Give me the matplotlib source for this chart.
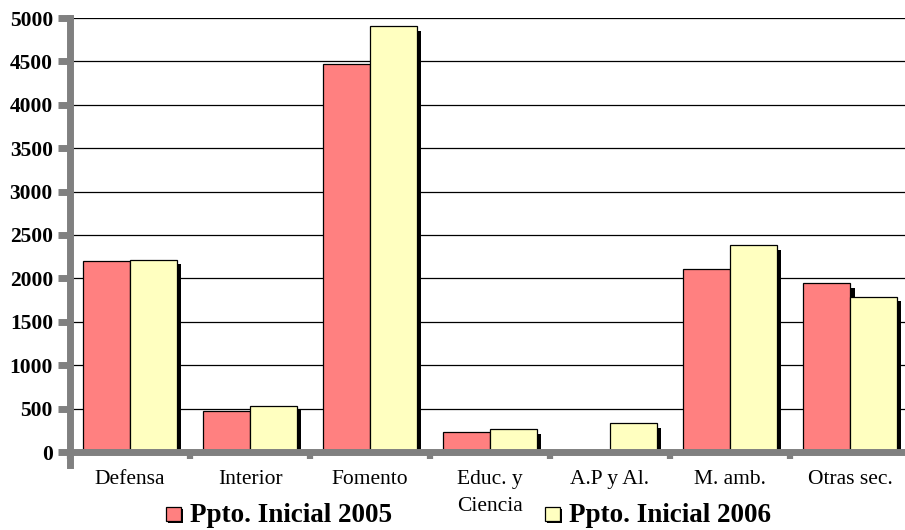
import numpy as np
import matplotlib
matplotlib.use("Agg")
import matplotlib.pyplot as plt
import matplotlib.patches as mpatches
import matplotlib.patheffects as pe

# budget by section, two years
categories = ["Defensa", "Interior", "Fomento", "Educ. y\nCiencia", "A.P y Al.", "M. amb.", "Otras sec."]
ppto_2005 = [2200, 477, 4470, 227, 0, 2105, 1942]
ppto_2006 = [2216, 534, 4908, 261, 330, 2384, 1790]
series_names = ["Ppto. Inicial 2005", "Ppto. Inicial 2006"]
series_colors = ["#FF8080", "#FFFFC0"]

plt.rcParams["font.family"] = ["Liberation Serif", "DejaVu Serif"]

fig = plt.figure(figsize=(9.05, 5.3), dpi=100)
ax = fig.add_axes([70 / 905, 78 / 530, 840 / 905, 434 / 530])

shadow = [pe.SimplePatchShadow(offset=(3.3, -3.3), shadow_rgbFace="black", alpha=1.0), pe.Normal()]
small_shadow = [pe.SimplePatchShadow(offset=(1.5, -1.5), shadow_rgbFace="black", alpha=1.0), pe.Normal()]

x = np.arange(len(categories))
w = 0.39
for i, vals in enumerate([ppto_2005, ppto_2006]):
    ax.bar(x + (i - 0.5) * w, vals, width=w, color=series_colors[i], edgecolor="black",
           linewidth=0.9, zorder=2, path_effects=shadow)

ax.set_xlim(-0.5, len(categories) - 0.5)
ax.set_ylim(0, 5000)
ax.set_yticks(np.arange(0, 5001, 500))
ax.grid(axis="y", color="black", linewidth=0.9, zorder=0)
ax.set_axisbelow(True)

for s in ["top", "right"]:
    ax.spines[s].set_visible(False)
for s in ["left", "bottom"]:
    ax.spines[s].set_color("#808080")
    ax.spines[s].set_linewidth(5)
    ax.spines[s].set_zorder(3)
ax.spines["left"].set_bounds(-150, 5000)

ax.tick_params(axis="y", length=8.3, width=5, color="#808080", pad=4)
for lab in ax.get_yticklabels():
    lab.set_fontsize(15.5)
    lab.set_fontweight("bold")

ax.set_xticks(x)
ax.set_xticklabels(categories, fontsize=15.5, linespacing=1.55, va="top")
ax.set_xticks(np.arange(-0.5, len(categories), 1), minor=True)
ax.tick_params(axis="x", which="major", length=0, pad=13)
ax.tick_params(axis="x", which="minor", length=5, width=4.5, color="#808080")

# legend drawn by hand below the axis
leg_x = [166, 545]
for i, name in enumerate(series_names):
    r = mpatches.Rectangle((leg_x[i] / 905, 1 - 521 / 530), 15 / 905, 14 / 530,
                           transform=fig.transFigure, facecolor=series_colors[i],
                           edgecolor="black", linewidth=0.9, path_effects=small_shadow)
    fig.add_artist(r)
    fig.text((leg_x[i] + 24) / 905, 1 - 522 / 530, name, fontsize=19.5, fontweight="bold",
             va="baseline", ha="left")

fig.savefig("out.png", dpi=100)
